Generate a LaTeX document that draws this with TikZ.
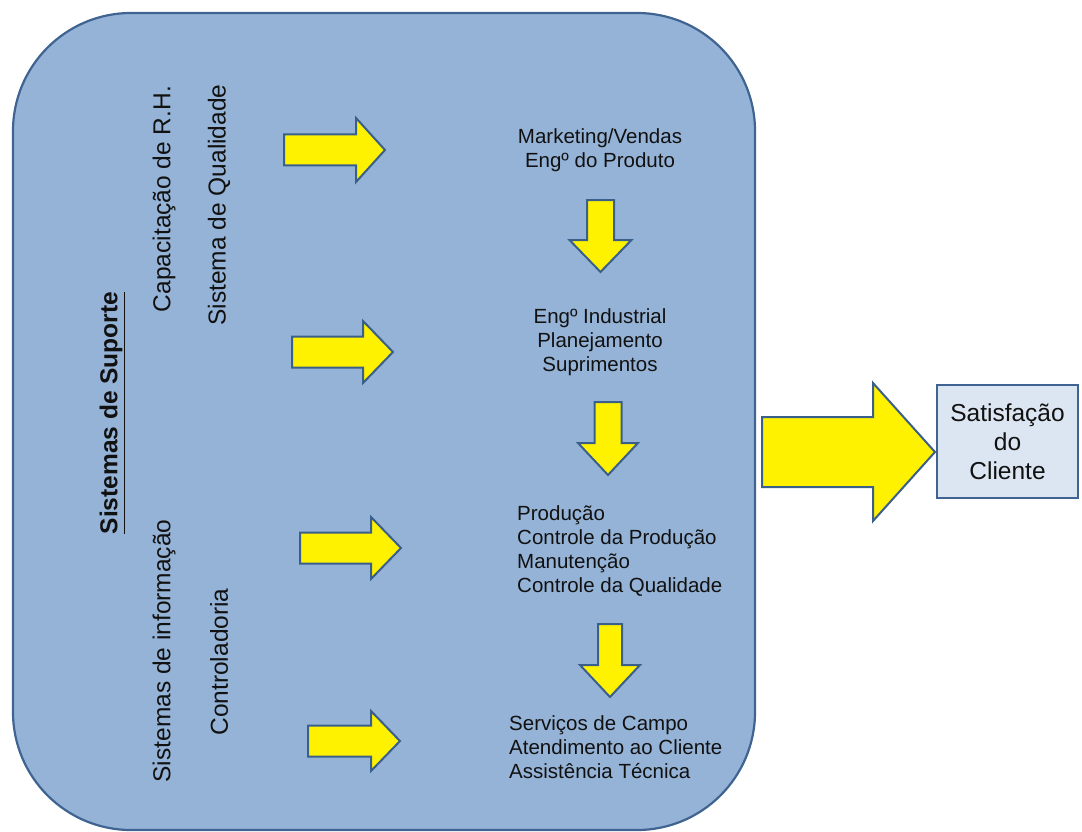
\documentclass[tikz,border=0pt]{standalone}
\usepackage{fontspec}
\setmainfont{Liberation Sans}
\definecolor{panelfill}{HTML}{95B3D7}
\definecolor{panelline}{HTML}{3F6491}
\definecolor{arrowline}{HTML}{3A5F8B}
\definecolor{boxfill}{HTML}{DCE6F2}
\definecolor{txt}{HTML}{111111}
\tikzset{
  yarrow/.style={fill=yellow, draw=arrowline, line width=2pt, line join=miter},
  listtext/.style={inner sep=0pt, text=txt, font=\fontsize{20.5}{24}\selectfont},
  sidetext/.style={inner sep=0pt, text=txt, rotate=90, anchor=center, font=\fontsize{24.5}{29}\selectfont},
}
\newcommand{\myharrow}[6]{%
  \draw[yarrow] (#1,#4-#5) -- (#2,#4-#5) -- (#2,#4-#6) -- (#3,#4) -- (#2,#4+#6) -- (#2,#4+#5) -- (#1,#4+#5) -- cycle;}
\newcommand{\myvarrow}[6]{% xc, y0, yh, yt, bw, hw
  \draw[yarrow] (#1-#5,#2) -- (#1+#5,#2) -- (#1+#5,#3) -- (#1+#6,#3) -- (#1,#4) -- (#1-#6,#3) -- (#1-#5,#3) -- cycle;}
\begin{document}
\begin{tikzpicture}[x=1pt,y=-1pt]
\useasboundingbox (0,0) rectangle (1082,832);
% main panel
\draw[fill=panelfill, draw=panelline, line width=2.2pt, rounded corners=118pt] (13,13) rectangle (755,830);
% side texts
\node[sidetext, font=\fontsize{24.5}{29}\selectfont\bfseries] (ss) at (112,413) {\underline{Sistemas de Suporte}};
\node[sidetext] (cap) at (164,199) {Capacitação de R.H.};
\node[sidetext] (sq) at (219,205) {Sistema de Qualidade};
\node[sidetext] (si) at (164,651) {Sistemas de informação};
\node[sidetext] (ct) at (219,662) {Controladoria};
% horizontal arrows
\myharrow{284}{356}{385}{150}{15.5}{32}
\myharrow{292}{363}{393}{352}{15.5}{31}
\myharrow{300}{371}{401}{548}{15.5}{31}
\myharrow{308}{371}{400}{741}{15.5}{30}
% lists
\node[listtext, align=center] (mk) at (600,150) {Marketing/Vendas\\Engº do Produto};
\node[listtext, align=center] (ei) at (600,342) {Engº Industrial\\Planejamento\\Suprimentos};
\node[listtext, align=left, anchor=west] (pr) at (517,551) {Produção\\Controle da Produção\\Manutenção\\Controle da Qualidade};
\node[listtext, align=left, anchor=west] (sc) at (509,747) {Serviços de Campo\\Atendimento ao Cliente\\Assistência Técnica};
% down arrows
\myvarrow{600.5}{200}{240}{272}{13.5}{31}
\myvarrow{608}{402}{443}{475}{13.5}{30}
\myvarrow{610}{624}{665}{697}{12}{30}
% big arrow
\myharrow{762}{873}{935}{452}{35}{69}
% client box
\node[draw=panelline, fill=boxfill, line width=1.8pt, minimum width=141pt, minimum height=113pt, inner sep=0pt, align=center, text=txt, font=\fontsize{24.5}{29}\selectfont] (sat) at (1007.5,441.5) {Satisfação\\do\\Cliente};
\end{tikzpicture}
\end{document}
